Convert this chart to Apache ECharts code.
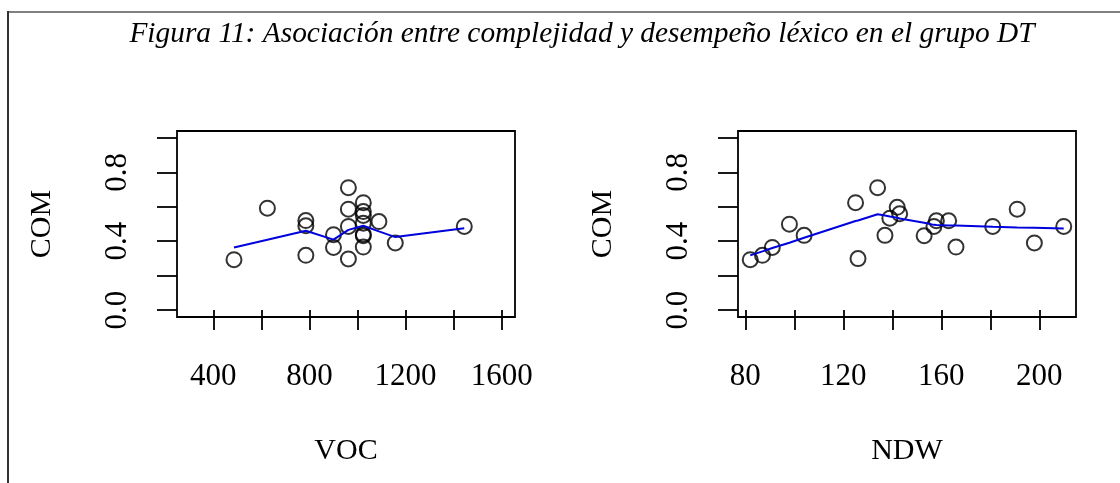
<!DOCTYPE html>
<html>
<head>
<meta charset="utf-8">
<script src="https://cdn.jsdelivr.net/npm/echarts@6/dist/echarts.min.js"></script>
<style>
html,body{margin:0;padding:0;background:#fff;}
#chart{width:1120px;height:483px;}
</style>
</head>
<body>
<div id="chart"></div>
<script>
// ---- data ----
const titleText = 'Figura 11: Asociación entre complejidad y desempeño léxico en el grupo DT';

const vocX   = [486, 625, 785, 785, 785, 900, 900, 962, 962, 962, 962, 1024, 1024, 1024, 1024, 1024, 1024, 1024, 1089, 1157, 1444];
const vocCom = [0.293, 0.592, 0.520, 0.490, 0.318, 0.438, 0.364, 0.711, 0.586, 0.486, 0.297, 0.624, 0.572, 0.550, 0.505, 0.440, 0.432, 0.366, 0.514, 0.390, 0.486];
const vocLowX = [486, 625, 785, 900, 962, 1024, 1089, 1157, 1444];
const vocLowY = [0.364, 0.409, 0.461, 0.409, 0.466, 0.490, 0.457, 0.424, 0.476];

const ndwX   = [82, 87, 91, 98, 104, 125, 126, 134, 137, 139, 142, 143, 153, 157, 158, 163, 166, 181, 191, 198, 210];
const ndwCom = [0.293, 0.318, 0.364, 0.499, 0.434, 0.624, 0.299, 0.711, 0.434, 0.534, 0.597, 0.559, 0.432, 0.486, 0.519, 0.519, 0.366, 0.486, 0.586, 0.390, 0.486];
const ndwLowX = [82, 87, 91, 98, 104, 125, 126, 134, 137, 139, 142, 143, 153, 157, 158, 163, 166, 181, 191, 198, 210];
const ndwLowY = [0.318, 0.341, 0.361, 0.391, 0.420, 0.517, 0.520, 0.557, 0.549, 0.543, 0.536, 0.532, 0.507, 0.495, 0.494, 0.492, 0.491, 0.484, 0.480, 0.478, 0.474];

const yTicks = [0, 0.2, 0.4, 0.6, 0.8, 1.0];
const yLabels = [0, 0.4, 0.8];
const vocTicks = [400, 600, 800, 1000, 1200, 1400, 1600];
const vocLabels = [400, 800, 1200, 1600];
const ndwTicks = [80, 100, 120, 140, 160, 180, 200];
const ndwLabels = [80, 120, 160, 200];

// ---- chart ----
const FONT = '"Liberation Serif", "DejaVu Serif", serif';
const chart = echarts.init(document.getElementById('chart'), null, {renderer: 'canvas'});

function xAxisDef(gi, min, max, ticks, labels, name) {
  return {
    type: 'value', gridIndex: gi, min: min, max: max,
    name: name, nameLocation: 'middle', nameGap: 119,
    nameTextStyle: {fontFamily: FONT, fontSize: 30, color: '#000'},
    splitLine: {show: false},
    axisLine: {show: false},
    axisTick: {show: true, inside: false, length: 20, customValues: ticks,
               lineStyle: {color: '#000', width: 1.8}},
    axisLabel: {show: true, customValues: labels, margin: 44,
                fontFamily: FONT, fontSize: 31, color: '#000',
                formatter: v => String(v)}
  };
}
function yAxisDef(gi) {
  return {
    type: 'value', gridIndex: gi, min: -0.04, max: 1.04,
    name: 'COM', nameLocation: 'middle', nameGap: 120,
    nameTextStyle: {fontFamily: FONT, fontSize: 30, color: '#000'},
    splitLine: {show: false},
    axisLine: {show: false},
    axisTick: {show: true, inside: false, length: 20, customValues: yTicks,
               lineStyle: {color: '#000', width: 1.8}},
    axisLabel: {show: true, customValues: yLabels, margin: 44, rotate: 90,
                fontFamily: FONT, fontSize: 31, color: '#000',
                formatter: v => v.toFixed(1)}
  };
}
const pts = (xs, ys) => xs.map((x, i) => [x, ys[i]]);

chart.setOption({
  backgroundColor: '#fff',
  animation: false,
  title: {
    text: titleText, left: 577, top: 15, textAlign: 'center',
    textStyle: {fontFamily: FONT, fontStyle: 'italic', fontWeight: 'normal', fontSize: 29.4, color: '#000'}
  },
  grid: [
    {left: 177, top: 131, width: 338, height: 186, show: true, borderColor: '#000', borderWidth: 1.8, backgroundColor: 'transparent'},
    {left: 738, top: 131, width: 338, height: 186, show: true, borderColor: '#000', borderWidth: 1.8, backgroundColor: 'transparent'}
  ],
  xAxis: [
    xAxisDef(0, 249, 1655, vocTicks, vocLabels, 'VOC'),
    xAxisDef(1, 77, 215, ndwTicks, ndwLabels, 'NDW')
  ],
  yAxis: [yAxisDef(0), yAxisDef(1)],
  series: [
    {type: 'scatter', xAxisIndex: 0, yAxisIndex: 0, data: pts(vocX, vocCom),
     symbol: 'circle', symbolSize: 15,
     itemStyle: {color: 'rgba(0,0,0,0)', borderColor: '#000', borderWidth: 2}, z: 2},
    {type: 'line', xAxisIndex: 0, yAxisIndex: 0, data: pts(vocLowX, vocLowY),
     symbol: 'none', lineStyle: {color: '#0000dd', width: 2}, z: 3},
    {type: 'scatter', xAxisIndex: 1, yAxisIndex: 1, data: pts(ndwX, ndwCom),
     symbol: 'circle', symbolSize: 15,
     itemStyle: {color: 'rgba(0,0,0,0)', borderColor: '#000', borderWidth: 2}, z: 2},
    {type: 'line', xAxisIndex: 1, yAxisIndex: 1, data: pts(ndwLowX, ndwLowY),
     symbol: 'none', lineStyle: {color: '#0000dd', width: 2}, z: 3}
  ],
  graphic: [
    {type: 'line', shape: {x1: 8, y1: 12, x2: 1120, y2: 12}, style: {stroke: '#808080', lineWidth: 2}},
    {type: 'line', shape: {x1: 8, y1: 11, x2: 8, y2: 483}, style: {stroke: '#333', lineWidth: 2}}
  ]
});
</script>
</body>
</html>
